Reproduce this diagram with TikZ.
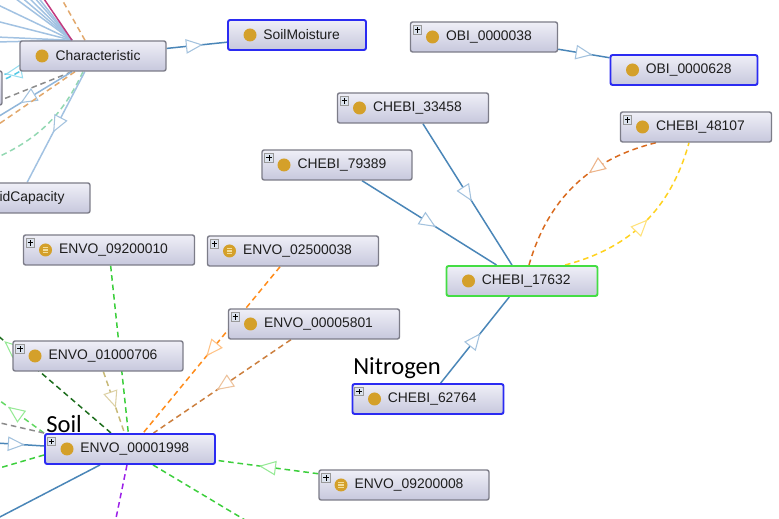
\documentclass[tikz,border=0pt]{standalone}
\usepackage{fontspec}
\setmainfont{Liberation Sans}
\newfontfamily\callab{Carlito}
\usetikzlibrary{arrows.meta,decorations.markings,backgrounds}
\definecolor{ink}{HTML}{1E1E1E}
\definecolor{gold}{HTML}{D4A02A}
\definecolor{cream}{HTML}{F3DE9A}
\definecolor{boxtop}{HTML}{EFEFF7}
\definecolor{boxbot}{HTML}{C7C8DD}
\definecolor{boxline}{HTML}{7C7C88}
\definecolor{plusbg}{HTML}{DCE3EE}
\definecolor{selblue}{HTML}{2B2BF2}
\definecolor{curgreen}{HTML}{44DD44}
\definecolor{steel}{HTML}{4A86B8}
\definecolor{steell}{HTML}{A3C2DE}
\definecolor{skyl}{HTML}{A2C2E2}
\definecolor{rose}{HTML}{C23A7E}
\definecolor{orng}{HTML}{FF8C1A}
\definecolor{orngl}{HTML}{FFC285}
\definecolor{peru}{HTML}{CC7F3E}
\definecolor{perul}{HTML}{EDC29C}
\definecolor{tan}{HTML}{E2A86C}
\definecolor{grn}{HTML}{3CCF3C}
\definecolor{grnl}{HTML}{96EA96}
\definecolor{dgrn}{HTML}{1E6E1E}
\definecolor{khaki}{HTML}{C8BA78}
\definecolor{khakil}{HTML}{DCD0A4}
\definecolor{purp}{HTML}{9B1FE8}
\definecolor{gry}{HTML}{8C8C8C}
\definecolor{mint}{HTML}{92D8B2}
\definecolor{cyn}{HTML}{52C8E6}
\definecolor{rust}{HTML}{D96A1E}
\definecolor{rustl}{HTML}{EDB48A}
\definecolor{yel}{HTML}{FFD21E}
\definecolor{yell}{HTML}{FFE27A}
\tikzset{
  cls/.style={draw=boxline, line width=0.8pt, rounded corners=1.2pt, top color=boxtop, bottom color=boxbot,
    minimum height=6mm, inner sep=0pt,
    path picture={\fill[gold] ([xshift=4.4mm]path picture bounding box.west) circle (1.3mm);}},
  defcls/.style={path picture={\fill[gold] ([xshift=4.4mm]path picture bounding box.west) circle (1.3mm);
    \foreach \d in {-0.45,0,0.45}
      \draw[cream, line width=0.28mm] ([xshift=3.85mm,yshift=\d mm]path picture bounding box.west) -- ++(1.1mm,0);}},
  sel/.style={draw=selblue, line width=1.1pt},
  cur/.style={draw=curgreen, line width=1.1pt},
  txt/.style={anchor=west, xshift=7.2mm, inner sep=0pt, text=ink, font=\fontsize{7.9}{9}\selectfont},
  plusbox/.style={draw=gray!80, fill=plusbg, minimum size=1.7mm, inner sep=0pt, line width=0.4pt,
    path picture={\draw[black, line width=0.35pt] (path picture bounding box.center) +(-0.55mm,0) -- +(0.55mm,0)
      +(0,-0.55mm) -- +(0,0.55mm);}},
  ln/.style={line width=0.85pt},
  dsh/.style={line width=0.85pt, dash pattern=on 3.2pt off 2.2pt},
  mid/.style 2 args={postaction={decorate, decoration={markings, mark=at position #1 with
    {\arrow{Triangle[length=3.4mm, width=2.9mm, fill=white, color=#2, line width=0.6pt]}}}}},
  big/.style={font=\callab\fontsize{14}{16}\selectfont, inner sep=0pt, text=black},
}
\begin{document}
\begin{tikzpicture}[x=0.02cm, y=-0.02cm]
  \useasboundingbox (0,0) rectangle (779,519);
  \clip (0,0) rectangle (779,519);

  % classes
  \node[cls, minimum width=29.2mm, label={[txt]west:Characteristic}] (char) at (93,56) {};
  \node[cls, sel, minimum width=27.6mm, label={[txt]west:SoilMoisture}] (soilmoist) at (297,35) {};
  \node[cls, minimum width=29.4mm, label={[txt]west:OBI\_0000038}] (obi38) at (484,37) {};
  \node[cls, sel, minimum width=29.4mm, label={[txt]west:OBI\_0000628}] (obi628) at (684,70) {};
  \node[cls, minimum width=30.2mm, label={[txt]west:CHEBI\_33458}] (chebi33458) at (413,108) {};
  \node[cls, minimum width=30.2mm, label={[txt]west:CHEBI\_48107}] (chebi48107) at (696,127) {};
  \node[cls, minimum width=30mm, label={[txt]west:CHEBI\_79389}] (chebi79389) at (337,165) {};
  \node[cls, minimum width=28.4mm, label={[txt, xshift=3.2mm]west:idCapacity}] (idcap) at (19,198) {};
  \node[cls, minimum width=30.4mm, minimum height=6.8mm] (lbox) at (-74,88) {};
  \node[cls, defcls, minimum width=34.2mm, label={[txt]west:ENVO\_09200010}] (envo9200010) at (109,250) {};
  \node[cls, defcls, minimum width=34.2mm, label={[txt]west:ENVO\_02500038}] (envo2500038) at (293,251) {};
  \node[cls, cur, minimum width=30.2mm, label={[txt]west:CHEBI\_17632}] (chebi17632) at (522,281) {};
  \node[cls, minimum width=34.2mm, label={[txt]west:ENVO\_00005801}] (envo5801) at (314,324) {};
  \node[cls, minimum width=34mm, label={[txt]west:ENVO\_01000706}] (envo1000706) at (98,356) {};
  \node[cls, sel, minimum width=30.2mm, label={[txt]west:CHEBI\_62764}] (chebi62764) at (428,399) {};
  \node[cls, sel, minimum width=34mm, label={[txt]west:ENVO\_00001998}] (soil) at (130,449) {};
  \node[cls, defcls, minimum width=34mm, label={[txt]west:ENVO\_09200008}] (envo9200008) at (404,485) {};

  \foreach \n in {obi38,chebi33458,chebi48107,chebi79389,envo9200010,envo2500038,envo5801,envo1000706,chebi62764,soil,envo9200008}
    \node[plusbox] (\n-p) at ([xshift=1.5mm,yshift=-1.7mm]\n.north west) {};

  \node[big, anchor=base west] (nitro) at (353,375) {Nitrogen};
  \node[big, anchor=base west] (soillab) at (46,433) {Soil};

  \begin{scope}[on background layer]
    \fill[white] (0,0) rectangle (779,519);
    \coordinate (hubN) at ([xshift=-4.2mm]char.north);
    \coordinate (hubS) at ([xshift=-4.2mm]char.south);
    % bundle round Characteristic
    \foreach \i/\x/\y in {1/-4/4,2/-4/21,3/-4/37,4/-4/42,5/12/-4,6/20/-4,7/27/-4,8/33/-4,9/37/-4} {
      \coordinate (up\i) at (\x,\y);
      \draw[ln, skyl] (hubN) -- (up\i);
    }
    \coordinate (up10) at (42,-4);
    \coordinate (up11) at (60,-4);
    \draw[ln, rose] (hubN) -- (up10);
    \draw[dsh, tan] ([xshift=-1.6mm]char.north) -- (up11);
    \coordinate (lo1) at (-4,102);
    \coordinate (lo2) at (-4,118);
    \coordinate (lo3) at (-4,126);
    \coordinate (lo4) at (-4,158);
    \draw[dsh, cyn, mid={0.85}{cyn!60}] (char.south west) -- (lbox);
    \draw[dsh, cyn] (char.south west) to[bend left=4] (lbox);
    \draw[dsh, gry] (hubS) -- (lo1);
    \draw[ln, skyl!80!steel, mid={0.68}{steell}] (hubS) -- (lo2);
    \draw[dsh, tan] ([xshift=-3.6mm]char.south) -- (lo3);
    \draw[dsh, mint] ([xshift=-2mm]char.south) to[bend left=20] (lo4);
    \draw[ln, skyl, mid={0.55}{steell}] (char) -- (idcap);
    \draw[ln, steel, mid={0.6}{steell}] (char) -- (soilmoist);
    \draw[ln, steel, mid={0.67}{steell}] (obi38) -- (obi628);
    % CHEBI_17632
    \draw[ln, steel, mid={0.55}{steell}] (chebi33458) -- (chebi17632);
    \draw[ln, steel, mid={0.55}{steell}] (chebi79389) -- (chebi17632);
    \draw[ln, steel, mid={0.58}{steell}] (chebi62764) -- (chebi17632);
    \draw[dsh, rust, mid={0.4}{rustl}] ([xshift=-8mm]chebi48107.south) to[bend right=30] ([xshift=1.4mm]chebi17632.north);
    \draw[dsh, yel, mid={0.52}{yell}] ([xshift=8.6mm]chebi17632.north) to[bend right=30] ([xshift=-1.4mm]chebi48107.south);
    % ENVO_00001998
    \coordinate (sl1) at (-4,398);
    \coordinate (sl2) at (-4,422);
    \coordinate (sl3) at (-4,443);
    \coordinate (sl4) at (-4,469);
    \coordinate (sl5) at (-4,519);
    \coordinate (sl6) at (115,523);
    \coordinate (sl7) at (250,523);
    \coordinate (sl8) at (-4,334);
    \draw[dsh, grn!80, mid={0.75}{grnl}] (soil.north west) -- (sl1);
    \draw[dsh, gry] (soil.north west) -- (sl2);
    \draw[ln, steel, mid={0.6}{steell}] (sl3) -- ([yshift=0.6mm]soil.west);
    \draw[dsh, grn] ([yshift=-1.2mm]soil.west) -- (sl4);
    \draw[ln, steel] ([xshift=-6mm]soil.south) -- (sl5);
    \draw[dsh, purp] ([xshift=-0.6mm]soil.south) -- (sl6);
    \draw[dsh, grn] ([xshift=4.6mm]soil.south) -- (sl7);
    \draw[dsh, dgrn, mid={0.93}{grnl}] ([xshift=-3.8mm]soil.north) -- (sl8);
    \draw[dsh, grn] (envo9200010) -- (soil);
    \draw[dsh, khaki, mid={0.59}{khakil}] (envo1000706) -- (soil);
    \draw[dsh, orng, mid={0.54}{orngl}] (envo2500038) -- (soil);
    \draw[dsh, peru, mid={0.54}{perul}] (envo5801) -- (soil);
    \draw[dsh, grn, mid={0.58}{grnl}] (envo9200008) -- (soil);
  \end{scope}
\end{tikzpicture}
\end{document}
